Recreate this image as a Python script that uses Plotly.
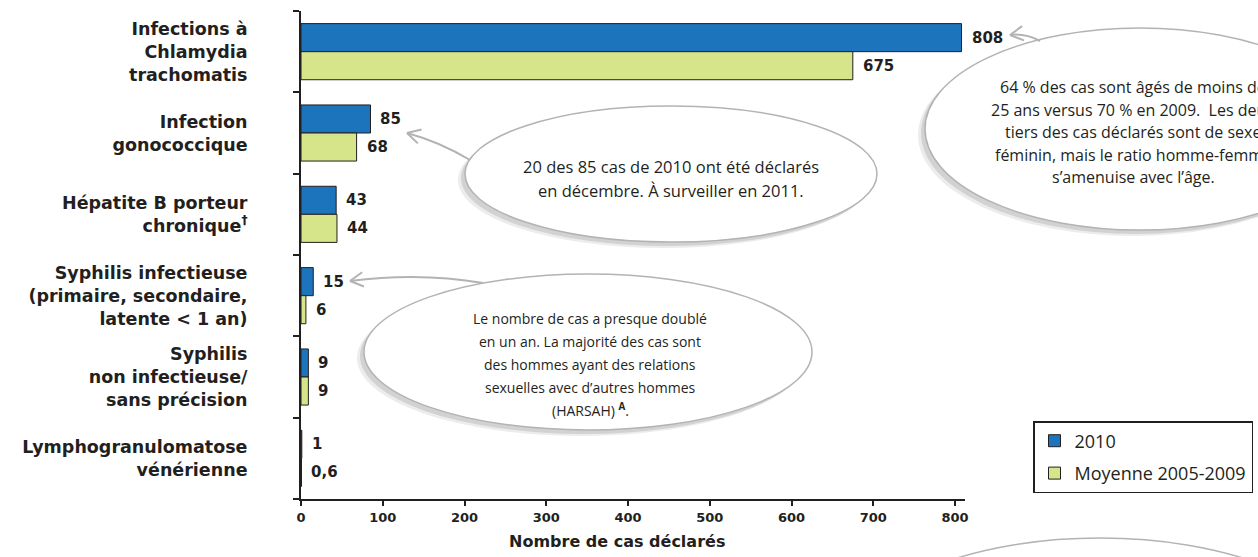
import math
import plotly.graph_objects as go

# ---------------- data ----------------
categories = [
    "Infections à<br>Chlamydia<br>trachomatis",
    "Infection<br>gonococcique",
    "Hépatite B porteur<br>chronique<sup>†</sup>",
    "Syphilis infectieuse<br>(primaire, secondaire,<br>latente &lt; 1 an)",
    "Syphilis<br>non infectieuse/<br>sans précision",
    "Lymphogranulomatose<br>vénérienne",
]
values_2010 = [808, 85, 43, 15, 9, 1]
values_avg = [675, 68, 44, 6, 9, 0.6]
series_names = ["2010", "Moyenne 2005-2009"]
x_tickvals = [0, 100, 200, 300, 400, 500, 600, 700, 800]
x_title = "Nombre de cas déclarés"

bubble_chlam = [
    "64 % des cas sont âgés de moins de",
    "25 ans versus 70 % en 2009.  Les deux",
    "tiers des cas déclarés sont de sexe",
    "féminin, mais le ratio homme-femme",
    "s\u2019amenuise avec l\u2019âge.",
]
bubble_gono = [
    "20 des 85 cas de 2010 ont été déclarés",
    "en décembre. À surveiller en 2011.",
]
bubble_syph = [
    "Le nombre de cas a presque doublé",
    "en un an. La majorité des cas sont",
    "des hommes ayant des relations",
    "sexuelles avec d\u2019autres hommes",
    "(HARSAH) <sup><b>A</b></sup>.",
]

# ---------------- layout geometry (pixels) ----------------
FW, FH = 1258, 557
L, T, B = 301, 11, 499
W = 664
H = B - T
PX_PER_UNIT = 0.8175
XMAX = W / PX_PER_UNIT

def px(x):
    return (x - L) / W

def py(y):
    return (B - y) / H

DARK = "#231F20"
BLUE = "#1C75BC"
GREEN = "#D7E58A"
BUBBLE_LINE = "#b3b3b3"
BOLD = "DejaVu Sans"
REG = "Open Sans"

fig = go.Figure()
fig.add_trace(go.Bar(
    y=categories, x=values_2010, name=series_names[0], orientation="h",
    marker=dict(color=BLUE, line=dict(color=DARK, width=1)),
    legendgroup="a", hoverinfo="skip",
))
fig.add_trace(go.Bar(
    y=categories, x=values_avg, name=series_names[1], orientation="h",
    marker=dict(color=GREEN, line=dict(color=DARK, width=1)),
    legendgroup="b", hoverinfo="skip",
))

def fmt(v):
    return ("%g" % v).replace(".", ",")

annotations = []
for vals, shift in ((values_2010, 14), (values_avg, -14)):
    for cat, v in zip(categories, vals):
        annotations.append(dict(x=v, y=cat, xref="x", yref="y",
                                text="<b>%s</b>" % fmt(v),
                                showarrow=False, xanchor="left", yanchor="middle",
                                xshift=8, yshift=shift,
                                font=dict(family=BOLD, size=15, color=DARK)))

# axis title
annotations.append(dict(x=px(617), y=py(541), xref="paper", yref="paper",
                        text="<b>%s</b>" % x_title, showarrow=False,
                        xanchor="center", yanchor="middle",
                        font=dict(family=BOLD, size=16, color=DARK)))

shapes = []

def ellipse(cx, cy, rx, ry):
    for dx, dy, col in [(-7, 6, "#ececec"), (-4, 4, "#d2d2d2")]:
        shapes.append(dict(type="circle", xref="paper", yref="paper",
                           x0=px(cx - rx + dx), x1=px(cx + rx + dx),
                           y0=py(cy + ry + dy), y1=py(cy - ry + dy),
                           fillcolor=col, line=dict(width=0), layer="above"))
    shapes.append(dict(type="circle", xref="paper", yref="paper",
                       x0=px(cx - rx), x1=px(cx + rx),
                       y0=py(cy + ry), y1=py(cy - ry),
                       fillcolor="white", line=dict(color=BUBBLE_LINE, width=1.5),
                       layer="above"))

def arrow(start, ctrl, tip, arm=15, spread=0.5):
    p = "M %f,%f Q %f,%f %f,%f" % (px(start[0]), py(start[1]), px(ctrl[0]), py(ctrl[1]),
                                   px(tip[0]), py(tip[1]))
    shapes.append(dict(type="path", xref="paper", yref="paper", path=p,
                       line=dict(color=BUBBLE_LINE, width=2), layer="above"))
    ang = math.atan2(ctrl[1] - tip[1], ctrl[0] - tip[0])
    for s in (-spread, spread):
        ax = tip[0] + arm * math.cos(ang + s)
        ay = tip[1] + arm * math.sin(ang + s)
        p2 = "M %f,%f L %f,%f" % (px(ax), py(ay), px(tip[0]), py(tip[1]))
        shapes.append(dict(type="path", xref="paper", yref="paper", path=p2,
                           line=dict(color=BUBBLE_LINE, width=2), layer="above"))

def bubble_text(lines, cx, y0, dy, size):
    for i, t in enumerate(lines):
        annotations.append(dict(x=px(cx), y=py(y0 + i * dy), xref="paper", yref="paper",
                                text=t, showarrow=False, xanchor="center",
                                yanchor="middle",
                                font=dict(family=REG, size=size, color=DARK)))

# Chlamydia bubble
ellipse(1140, 129, 215, 101)
arrow((1040, 41), (1025, 33), (1010, 35))
bubble_text(bubble_chlam, 1133, 87, 22.5, 16)

# gonococcique bubble
ellipse(671, 174, 206, 68)
arrow((470, 160), (440, 142), (407, 133))
bubble_text(bubble_gono, 671, 166, 24, 16.5)

# syphilis bubble
ellipse(588, 352, 224, 78)
arrow((483, 283), (420, 272), (350, 281))
bubble_text(bubble_syph, 590, 318, 23, 14)

# bottom-right bubble (partial)
ellipse(1100, 640, 240, 102)

fig.update_layout(
    width=FW, height=FH,
    margin=dict(l=L, r=FW - L - W, t=T, b=FH - B, autoexpand=False),
    paper_bgcolor="white", plot_bgcolor="white",
    barmode="group", bargap=0.31, bargroupgap=0,
    showlegend=True,
    legend=dict(x=px(1033), y=py(421), xanchor="left", yanchor="top",
                bordercolor=DARK, borderwidth=1.5, bgcolor="white",
                font=dict(family=REG, size=18, color=DARK),
                traceorder="grouped", tracegroupgap=6,
                itemclick=False, itemdoubleclick=False),
    xaxis=dict(range=[0, XMAX], tickvals=x_tickvals,
               ticktext=["<b>%d</b>" % v for v in x_tickvals],
               showgrid=False, zeroline=False, showline=True,
               linecolor=DARK, linewidth=2, ticks="outside", ticklen=5,
               tickwidth=1.5, tickcolor=DARK,
               tickfont=dict(family=BOLD, size=13, color=DARK), fixedrange=True),
    yaxis=dict(autorange="reversed", type="category", showgrid=False,
               showline=True, linecolor=DARK, linewidth=2,
               ticks="outside", ticklen=6, tickwidth=1.5, tickcolor=DARK,
               tickson="boundaries", ticklabelstandoff=48,
               tickvals=categories,
               ticktext=["<b>%s</b>" % c for c in categories],
               tickfont=dict(family=BOLD, size=17.5, color=DARK), fixedrange=True),
    annotations=annotations,
    shapes=shapes,
)

fig.write_html(
    "out.html",
    config={"displayModeBar": False},
    post_script="document.body.style.margin='0';document.body.style.overflow='hidden';",
)
